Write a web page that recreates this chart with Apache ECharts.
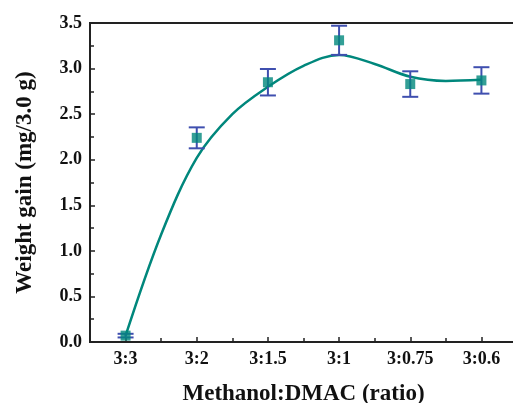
<!DOCTYPE html>
<html>
<head>
<meta charset="utf-8">
<script src="https://cdn.jsdelivr.net/npm/echarts@6/dist/echarts.min.js"></script>
<style>
  html, body { margin: 0; padding: 0; background: #fff; }
  #chart { width: 513px; height: 403px; }
</style>
</head>
<body>
<div id="chart"></div>
<script>
// Solvent ratio categories
var categories = ['3:3', '3:2', '3:1.5', '3:1', '3:0.75', '3:0.6'];
// Measured weight gain (mg per 3.0 g) and its standard deviation
var weightGain = [0.07, 2.24, 2.85, 3.31, 2.83, 2.87];
var errorSize = [0.02, 0.115, 0.145, 0.16, 0.14, 0.145];
// Fitted trend curve, sampled at half-category steps (position index, value)
var curveX = [0, 0.5, 1, 1.5, 2, 2.5, 3, 3.5, 4, 4.5, 5];
var curveY = [0.07, 1.18, 2.02, 2.50, 2.80, 3.03, 3.15, 3.05, 2.91, 2.865, 2.876];
// Y axis range
var yMin = 0, yMax = 3.5, yStep = 0.5;

var fontFamily = '"Liberation Serif", "Times New Roman", serif';
var teal = '#00877c';
var blue = '#3f4faf';
var axisColor = '#222';

var curveData = curveX.map(function (x, i) { return [x, curveY[i]]; });
var errData = weightGain.map(function (v, i) { return [i, v - errorSize[i], v + errorSize[i]]; });
var pointData = weightGain.map(function (v, i) { return [i, v]; });

var chart = echarts.init(document.getElementById('chart'), null, { renderer: 'canvas' });
chart.setOption({
  animation: false,
  backgroundColor: '#fff',
  grid: {
    left: 90, top: 23, right: -4, bottom: 61,
    containLabel: false, outerBoundsMode: 'none',
    show: true, borderColor: axisColor, borderWidth: 2, backgroundColor: 'transparent'
  },
  xAxis: [
    {
      type: 'category', data: categories, boundaryGap: true, position: 'bottom',
      axisLine: { show: true, onZero: false, lineStyle: { color: axisColor, width: 2 } },
      axisTick: { show: true, inside: true, alignWithLabel: true, length: 5, lineStyle: { color: axisColor, width: 1.5 } },
      axisLabel: { color: '#111', fontFamily: fontFamily, fontWeight: 'bold', fontSize: 18, margin: 8 },
      splitLine: { show: false },
      name: 'Methanol:DMAC (ratio)', nameLocation: 'middle', nameGap: 41,
      nameTextStyle: { color: '#111', fontFamily: fontFamily, fontWeight: 'bold', fontSize: 23 }
    },
    {
      type: 'category', data: categories, boundaryGap: true, position: 'bottom',
      axisLine: { show: false, onZero: false },
      axisTick: { show: true, inside: true, alignWithLabel: false, length: 4, lineStyle: { color: axisColor, width: 1.5 } },
      axisLabel: { show: false },
      splitLine: { show: false }
    },
    {
      type: 'value', min: -0.5, max: 5.5, show: false,
      axisLine: { onZero: false }
    }
  ],
  yAxis: {
    type: 'value', min: yMin, max: yMax, interval: yStep,
    axisLine: { show: true, onZero: false, lineStyle: { color: axisColor, width: 2 } },
    axisTick: { show: true, inside: true, length: 5, lineStyle: { color: axisColor, width: 1.5 } },
    minorTick: { show: true, splitNumber: 2, length: 4, lineStyle: { color: axisColor, width: 1.5 } },
    axisLabel: {
      color: '#111', fontFamily: fontFamily, fontWeight: 'bold', fontSize: 18, margin: 8,
      formatter: function (v) { return v.toFixed(1); }
    },
    splitLine: { show: false },
    name: 'Weight gain (mg/3.0 g)', nameLocation: 'middle', nameGap: 53, nameRotate: 90,
    nameTextStyle: { color: '#111', fontFamily: fontFamily, fontWeight: 'bold', fontSize: 23 }
  },
  series: [
    {
      type: 'line', xAxisIndex: 2, data: curveData, smooth: 0.35,
      showSymbol: false, symbol: 'none',
      lineStyle: { color: teal, width: 2.5 }, z: 2
    },
    {
      type: 'custom', xAxisIndex: 0, data: errData, z: 3,
      renderItem: function (params, api) {
        var x = api.value(0);
        var lo = api.coord([x, api.value(1)]);
        var hi = api.coord([x, api.value(2)]);
        var cap = 8;
        var style = { stroke: blue, lineWidth: 2 };
        return {
          type: 'group',
          children: [
            { type: 'line', shape: { x1: lo[0], y1: lo[1], x2: hi[0], y2: hi[1] }, style: style },
            { type: 'line', shape: { x1: lo[0] - cap, y1: lo[1], x2: lo[0] + cap, y2: lo[1] }, style: style },
            { type: 'line', shape: { x1: hi[0] - cap, y1: hi[1], x2: hi[0] + cap, y2: hi[1] }, style: style }
          ]
        };
      }
    },
    {
      type: 'scatter', xAxisIndex: 0, data: pointData, symbol: 'rect', symbolSize: 10,
      itemStyle: { color: teal }, z: 4
    }
  ]
});
</script>
</body>
</html>
